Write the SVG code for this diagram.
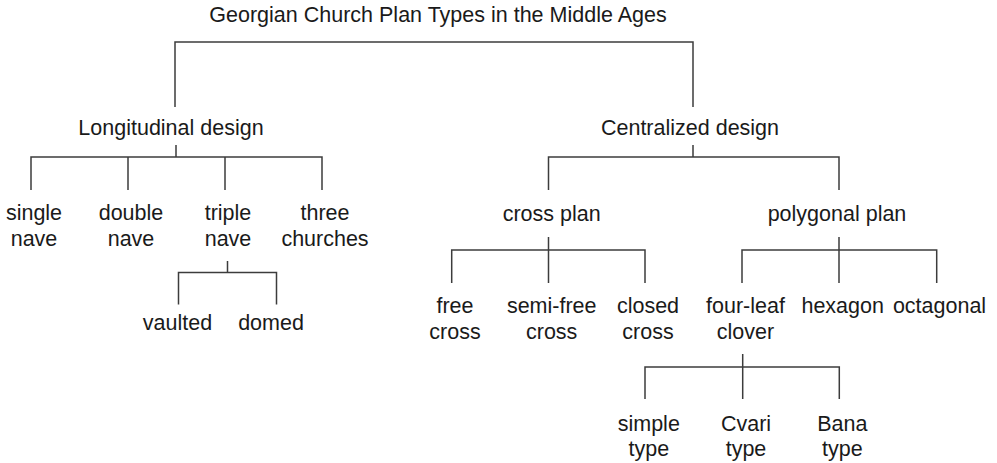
<svg xmlns="http://www.w3.org/2000/svg" width="997" height="463" viewBox="0 0 997 463">
<style>
  text { font-family: "Liberation Sans", Arial, sans-serif; font-size: 21.5px; fill: #1a1a1a; text-anchor: middle; }
  .c { fill: none; stroke: #3c3c3c; stroke-width: 1.5; }
</style>
<rect width="997" height="463" fill="#ffffff"/>
<g id="connectors" class="c">
  <path d="M175,107 V42 H693 V107"/>
  <path d="M176,145 V157 M31,190 V157 H322 V190 M128,157 V190 M225,157 V190"/>
  <path d="M227.5,261 V272.5 M178.5,304.5 V272.5 H276.5 V304.5"/>
  <path d="M693,145 V157 M548.5,190 V157 H839 V190"/>
  <path d="M548.5,237 V283 M451.7,283 V250 H645 V283"/>
  <path d="M839,237 V283 M742,283 V250 H936.7 V283"/>
  <path d="M742.7,354 V399 M645,399 V367 H839.3 V399"/>
</g>
<g id="root"><text x="438" y="22">Georgian Church Plan Types in the Middle Ages</text></g>
<g id="longitudinal"><text x="171" y="135">Longitudinal design</text></g>
<g id="centralized"><text x="690" y="135">Centralized design</text></g>
<g id="single-nave"><text x="34" y="220">single</text><text x="34" y="246">nave</text></g>
<g id="double-nave"><text x="131" y="220">double</text><text x="131" y="246">nave</text></g>
<g id="triple-nave"><text x="228" y="220">triple</text><text x="228" y="246">nave</text></g>
<g id="three-churches"><text x="325" y="220">three</text><text x="325" y="246">churches</text></g>
<g id="vaulted"><text x="177.5" y="330">vaulted</text></g>
<g id="domed"><text x="271" y="330">domed</text></g>
<g id="cross-plan"><text x="551.7" y="221">cross plan</text></g>
<g id="polygonal-plan"><text x="837" y="221">polygonal plan</text></g>
<g id="free-cross"><text x="455" y="313">free</text><text x="455" y="338.5">cross</text></g>
<g id="semi-free-cross"><text x="551.7" y="313">semi-free</text><text x="551.7" y="338.5">cross</text></g>
<g id="closed-cross"><text x="648" y="313">closed</text><text x="648" y="338.5">cross</text></g>
<g id="four-leaf-clover"><text x="745.5" y="313">four-leaf</text><text x="745.5" y="338.5">clover</text></g>
<g id="hexagon"><text x="842.7" y="313">hexagon</text></g>
<g id="octagonal"><text x="939.5" y="313">octagonal</text></g>
<g id="simple-type"><text x="648.8" y="431">simple</text><text x="648.8" y="456">type</text></g>
<g id="cvari-type"><text x="746" y="431">Cvari</text><text x="746" y="456">type</text></g>
<g id="bana-type"><text x="842.4" y="431">Bana</text><text x="842.4" y="456">type</text></g>
</svg>
